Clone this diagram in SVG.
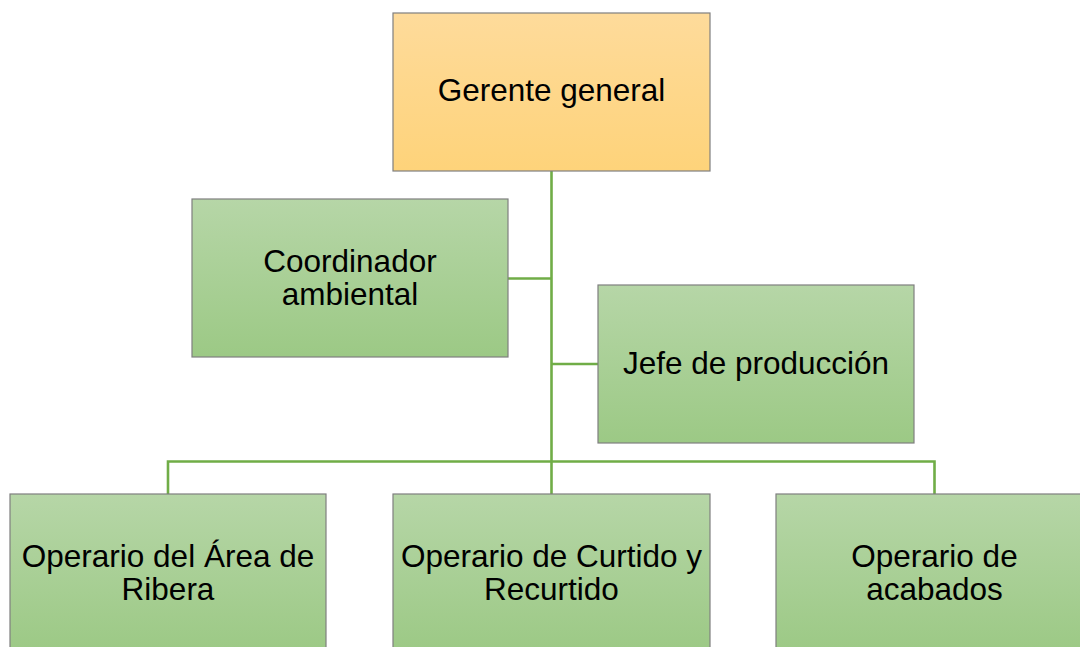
<svg xmlns="http://www.w3.org/2000/svg" width="1080" height="647" viewBox="0 0 1080 647">
<defs>
<linearGradient id="gGreen" x1="0" y1="0" x2="0" y2="1">
<stop offset="0" stop-color="#b6d6a7"/>
<stop offset="1" stop-color="#9cc985"/>
</linearGradient>
<linearGradient id="gOrange" x1="0" y1="0" x2="0" y2="1">
<stop offset="0" stop-color="#fedb9b"/>
<stop offset="1" stop-color="#fed37a"/>
</linearGradient>
</defs>
<style>
.box{stroke:#7f7f7f;stroke-width:1.2}
.green{fill:url(#gGreen)}
.orange{fill:url(#gOrange)}
.lbl{font-family:"Liberation Sans",Arial,sans-serif;font-size:31.5px;fill:#000;text-anchor:middle}
.conn{stroke:#70ad47;stroke-width:2.6;fill:none}
</style>
<rect width="1080" height="647" fill="#ffffff"/>
<g id="connectors">
<line class="conn" x1="551.5" y1="171" x2="551.5" y2="494"/>
<line class="conn" x1="508" y1="278.5" x2="551.5" y2="278.5"/>
<line class="conn" x1="551.5" y1="364" x2="598" y2="364"/>
<polyline class="conn" points="168,494 168,461.5 934.5,461.5 934.5,494"/>
</g>
<g id="node-gerente">
<rect class="box orange" x="393" y="13" width="317" height="158"/>
<text class="lbl" x="551.5" y="101">Gerente general</text>
</g>
<g id="node-coordinador">
<rect class="box green" x="192" y="199" width="316" height="158"/>
<text class="lbl" x="350" y="271.5">Coordinador</text>
<text class="lbl" x="350" y="304.5">ambiental</text>
</g>
<g id="node-jefe">
<rect class="box green" x="598" y="285" width="316" height="158"/>
<text class="lbl" x="756" y="373.5">Jefe de producción</text>
</g>
<g id="node-ribera">
<rect class="box green" x="10" y="494" width="316" height="158"/>
<text class="lbl" x="168" y="567">Operario del Área de</text>
<text class="lbl" x="168" y="599.5">Ribera</text>
</g>
<g id="node-curtido">
<rect class="box green" x="393" y="494" width="317" height="158"/>
<text class="lbl" x="551.5" y="567">Operario de Curtido y</text>
<text class="lbl" x="551.5" y="599.5">Recurtido</text>
</g>
<g id="node-acabados">
<rect class="box green" x="776" y="494" width="317" height="158"/>
<text class="lbl" x="934.5" y="567">Operario de</text>
<text class="lbl" x="934.5" y="599.5">acabados</text>
</g>
</svg>
